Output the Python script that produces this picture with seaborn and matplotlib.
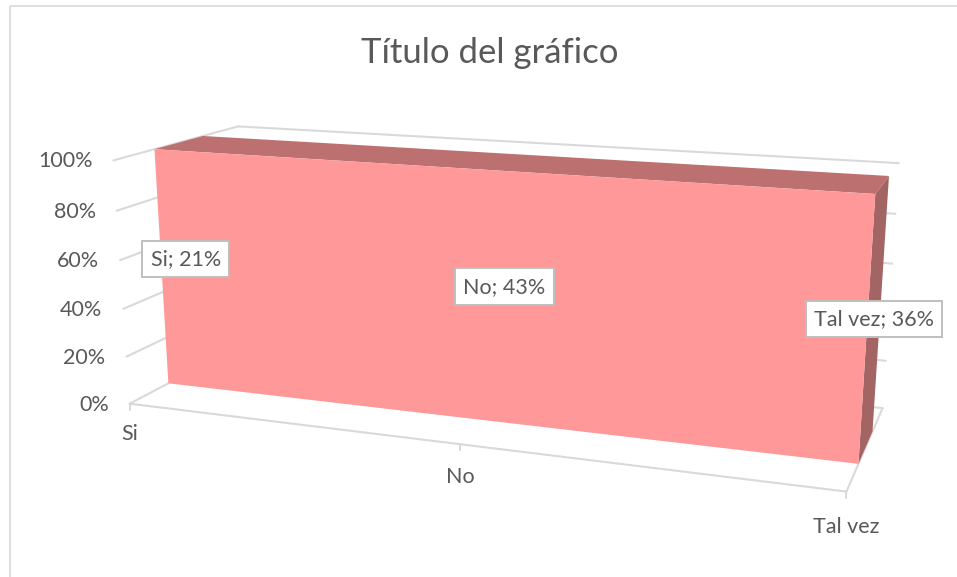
import numpy as np
import pandas as pd
import seaborn as sns
import matplotlib.pyplot as plt

categories = ['Si', 'No', 'Tal vez']
shares = [21, 43, 36]
pct_ticks = [0, 20, 40, 60, 80, 100]
title = 'Título del gráfico'

GRID = '#d9d9d9'
TEXT = '#595959'
FRONT = '#ff9999'
TOP = '#bc7070'
SIDE = '#a36464'

# the area is 100% stacked, one series, so every point sits at the full height
stacked = [100 * s / s for s in shares]

# camera for the excel 3d box, fitted on the corners that show on the picture
# 'f' and 'b' stand for the front and back depth of the area, found below
wall_pts = [(0, 0, 0), (0, 100, 0), (2, 0, 0), (0, 100, 1), (2, 0, 1), (2, 100, 1)]
wall_px = [(130, 404), (113, 160), (846, 492), (238, 126), (882, 409), (899, 163)]
area_pts = [(0, 0, 'f'), (0, 100, 'f'), (2, 0, 'f'), (2, 100, 'f'), (0, 100, 'b'), (2, 0, 'b'), (2, 100, 'b')]
area_px = [(168, 383), (155, 150), (859, 464), (875, 193), (203, 136), (873, 430), (889, 177)]

def fit_camera(pts, px):
    rows = []
    for (x, y, z), (u, v) in zip(pts, px):
        rows.append([x, y, z, 1, 0, 0, 0, 0, -u*x, -u*y, -u*z, -u])
        rows.append([0, 0, 0, 0, x, y, z, 1, -v*x, -v*y, -v*z, -v])
    return np.linalg.svd(np.array(rows, dtype=float))[2][-1].reshape(3, 4)

def apply_cam(c, x, y, z):
    p = c @ np.array([x, y, z, 1.0])
    return p[0] / p[2], p[1] / p[2]

# try depths for the area, keep the ones with the smallest pixel error
best = None
for zf in np.arange(0.2, 0.5, 0.01):
    for zb in np.arange(0.55, 0.9, 0.01):
        pts = wall_pts + [(x, y, zf if z == 'f' else zb) for x, y, z in area_pts]
        px = wall_px + area_px
        c = fit_camera(pts, px)
        err = sum(np.hypot(*(np.array(apply_cam(c, *p)) - np.array(q))) for p, q in zip(pts, px))
        if best is None or err < best[0]:
            best = (err, zf, zb, c)
_, z_front, z_back, cam = best

def proj(x, y, z):
    return apply_cam(cam, x, y, z)

sns.set_theme(style='white')
plt.rcParams['font.family'] = ['Lato', 'DejaVu Sans']
fig = plt.figure(figsize=(9.57, 5.77), dpi=100)
ax = fig.add_axes([0, 0, 1, 1])
ax.set_xlim(0, 957)
ax.set_ylim(577, 0)
ax.axis('off')

# outer chart frame, only top and left are in the crop
ax.plot([10, 10, 957], [577, 6, 6], color=GRID, lw=1.2, zorder=1)

# gridlines on left wall and back wall, floor outline, ticks
lines = []
n = 0
for t in pct_ticks:
    for pts in ([(0, t, 0), (0, t, 1)], [(0, t, 1), (2, t, 1)]):
        for p in pts:
            lines.append((n, *proj(*p)))
        n += 1
for pts in ([(0, 0, 0), (2, 0, 0)], [(2, 0, 0), (2, 0, 1)]):
    for p in pts:
        lines.append((n, *proj(*p)))
    n += 1
for i in range(3):
    u, v = proj(i, 0, 0)
    lines.append((n, u, v))
    lines.append((n, u, v + 6))
    n += 1
grid_df = pd.DataFrame(lines, columns=['line', 'u', 'v'])
sns.lineplot(data=grid_df, x='u', y='v', units='line', estimator=None, sort=False,
             color=GRID, lw=1.5, ax=ax, zorder=2, legend=False)
ax.set_xlim(0, 957)
ax.set_ylim(577, 0)

# area
xs = list(range(len(categories)))
front = [proj(x, 0, z_front) for x in xs] + [proj(x, h, z_front) for x, h in zip(xs, stacked)][::-1]
top = [proj(x, h, z_front) for x, h in zip(xs, stacked)] + [proj(x, h, z_back) for x, h in zip(xs, stacked)][::-1]
side = [proj(2, 0, z_front), proj(2, stacked[2], z_front), proj(2, stacked[2], z_back), proj(2, 0, z_back)]
for poly, col in ((side, SIDE), (top, TOP), (front, FRONT)):
    ax.fill(*zip(*poly), color=col, lw=0, zorder=3)

# axis text
for t in pct_ticks:
    u, v = proj(0, t, 0)
    ax.text(u - 21, v + 1, f'{t}%', ha='right', va='center', fontsize=15.5, color=TEXT, zorder=5)
for i, c in enumerate(categories):
    u, v = proj(i, 0, 0)
    ax.text(u, v + 30 + 2.5 * i, c, ha='center', va='center', fontsize=15.5, color=TEXT, zorder=5)

# data labels in the middle of each point
for i, (c, s) in enumerate(zip(categories, shares)):
    u, v = proj(i, 50, (z_front + z_back) / 2)
    ax.text(u, v, f'{c}; {s}%', ha='center', va='center', fontsize=15.5, color=TEXT, zorder=6,
            bbox=dict(boxstyle='square,pad=0.38', fc='white', ec='#bfbfbf', lw=1.4))

ax.text(489.5, 53, title, ha='center', va='center', fontsize=25, color=TEXT, zorder=5)

fig.savefig('out.png', dpi=100)
